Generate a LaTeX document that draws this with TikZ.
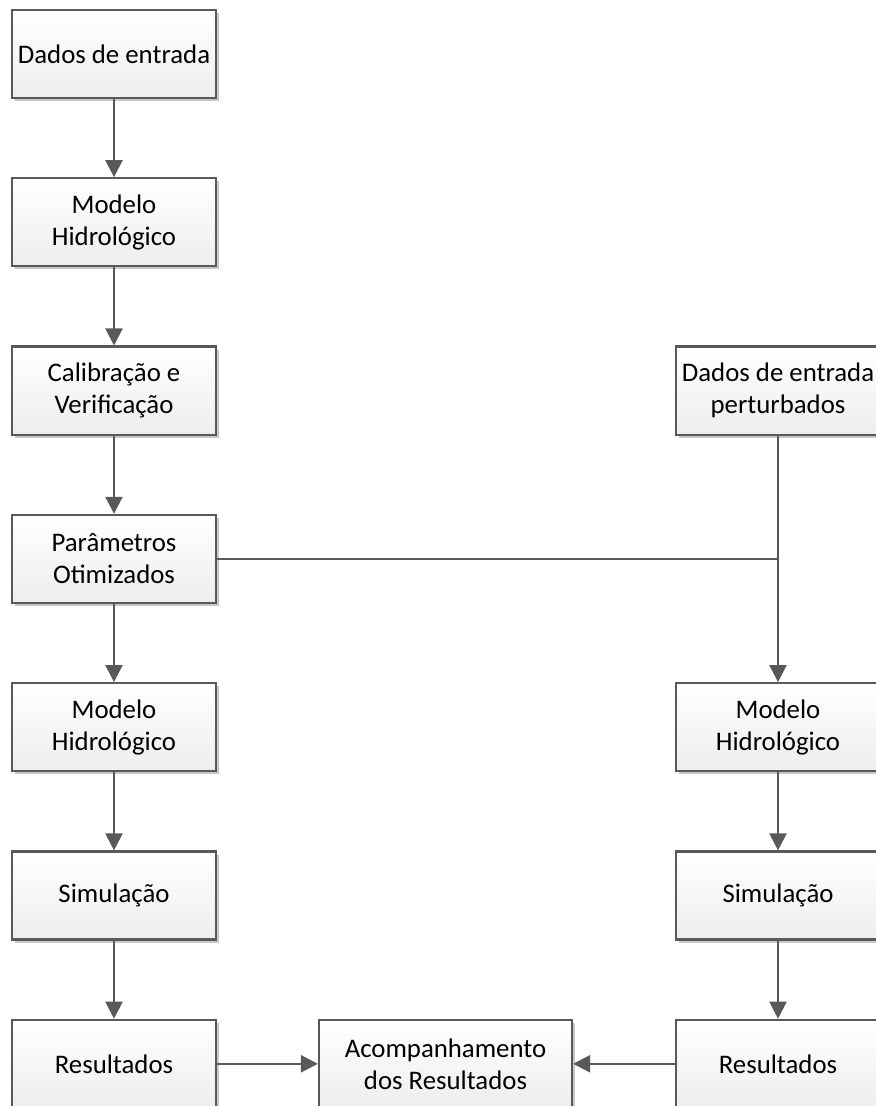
\documentclass[tikz,border=0pt]{standalone}
\usepackage{fontspec}
\setmainfont{Carlito}
\usetikzlibrary{arrows.meta,shadows}
\begin{document}
\begin{tikzpicture}[x=0.5pt,y=-0.5pt,
    box/.style={rectangle,draw=black!65,line width=1.1pt,top color=white,bottom color=black!7,
        minimum width=102pt,minimum height=44pt,inner sep=2pt,align=center,
        font=\fontsize{13.4}{16}\selectfont,
        drop shadow={shadow xshift=1.5pt,shadow yshift=-1.5pt,fill=black!22,opacity=1}},
    flow/.style={draw=black!65,line width=1.1pt,-{Triangle[length=8.5pt,width=8.5pt]}}]
    \useasboundingbox (0,0) rectangle (876,1106);
        \node[box] (in) at (114,54) {Dados de entrada};
        \node[box] (mod1) at (114,222.3) {Modelo\\Hidrológico};
        \node[box] (cal) at (114,390.6) {Calibração e\\Verificação};
        \node[box] (par) at (114,558.9) {Parâmetros\\Otimizados};
        \node[box] (mod2) at (114,727.2) {Modelo\\Hidrológico};
        \node[box] (sim1) at (114,895.5) {Simulação};
        \node[box] (res1) at (114,1063.8) {Resultados};
        \node[box] (pert) at (778,390.6) {Dados de entrada\\perturbados};
        \node[box] (mod3) at (778,727.2) {Modelo\\Hidrológico};
        \node[box] (sim2) at (778,895.5) {Simulação};
        \node[box] (res2) at (778,1063.8) {Resultados};
        \node[box,minimum width=126.5pt] (acomp) at (445.5,1063.8) {Acompanhamento\\dos Resultados};
        \coordinate (join) at (par -| pert);

        \draw[flow] (in)--(mod1);
        \draw[flow] (mod1)--(cal);
        \draw[flow] (cal)--(par);
        \draw[flow] (par)--(mod2);
        \draw[flow] (mod2)--(sim1);
        \draw[flow] (sim1)--(res1);
        \draw[flow] (res1)--(acomp);
        \draw[draw=black!65,line width=1.1pt] (par)--(join);
        \draw[draw=black!65,line width=1.1pt] (pert)--(join);
        \draw[flow] (join)--(mod3);
        \draw[flow] (mod3)--(sim2);
        \draw[flow] (sim2)--(res2);
        \draw[flow] (res2)--(acomp);
    \end{tikzpicture}
\end{document}
